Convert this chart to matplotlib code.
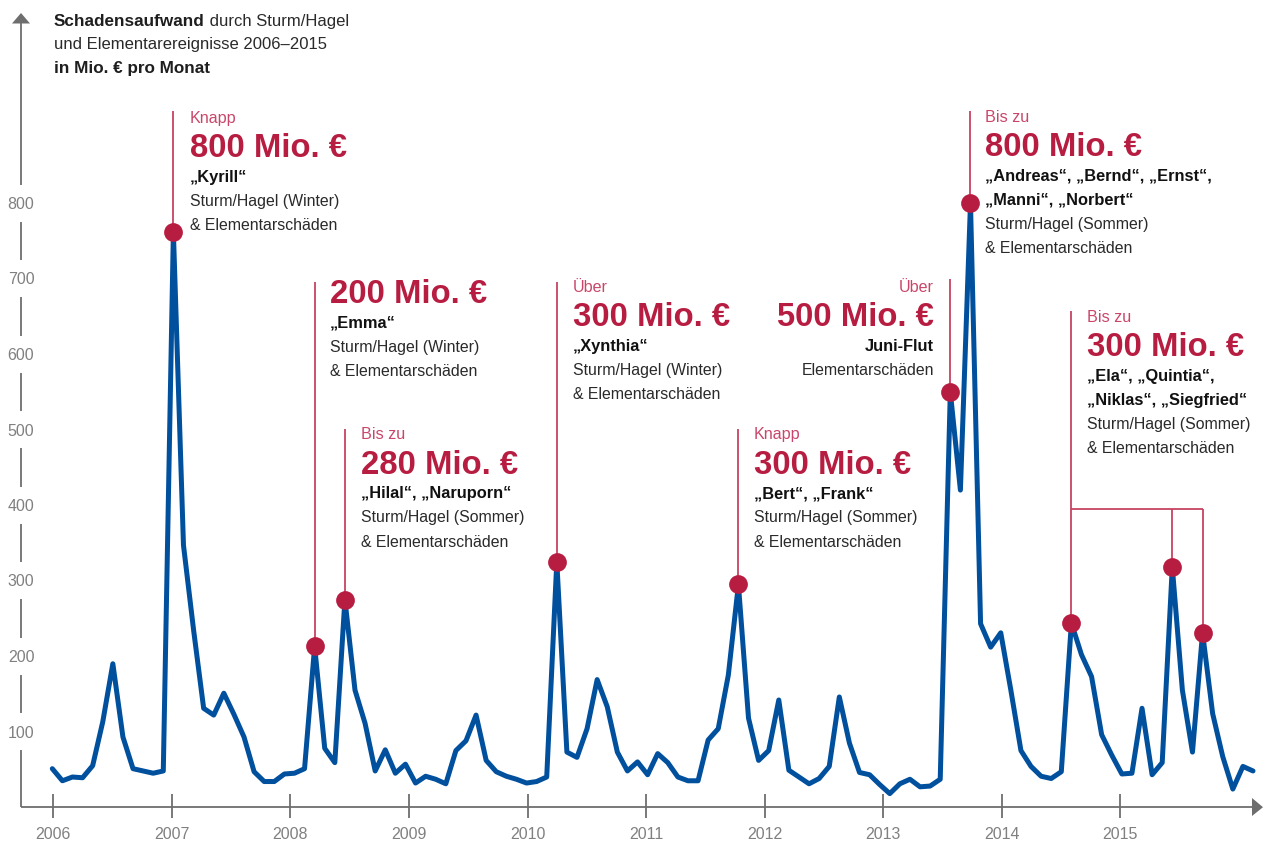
import numpy as np
import matplotlib
matplotlib.use("Agg")
import matplotlib.pyplot as plt
from matplotlib.patches import Polygon

# ---------------------------- DATEN ------------------------------- #
YEARS = list(range(2006, 2016))
Y_TICKS = [100, 200, 300, 400, 500, 600, 700, 800]

# Schadenaufwand in Mio. € pro Monat (Jan..Dez)
S_2006 = [51, 35, 40, 39, 55, 113, 190, 93, 51, 48, 45, 48]
S_2007 = [762, 347, 235, 131, 122, 151, 123, 93, 47, 34, 34, 44]
S_2008 = [45, 51, 213, 78, 59, 275, 155, 111, 48, 76, 45, 57]
S_2009 = [32, 41, 37, 31, 75, 88, 122, 62, 47, 41, 37, 32]
S_2010 = [34, 40, 325, 73, 66, 104, 169, 133, 73, 48, 60, 43]
S_2011 = [71, 59, 40, 35, 35, 89, 104, 175, 295, 118, 62, 75]
S_2012 = [142, 49, 40, 31, 38, 54, 146, 85, 46, 43, 30, 18]
S_2013 = [31, 37, 27, 28, 37, 550, 420, 800, 243, 212, 231, 155]
S_2014 = [75, 54, 41, 38, 47, 244, 202, 173, 96, 69, 44, 45]
S_2015 = [131, 43, 59, 318, 155, 73, 231, 124, 67, 24, 54, 48]
SCHADEN = (S_2006 + S_2007 + S_2008 + S_2009 + S_2010
           + S_2011 + S_2012 + S_2013 + S_2014 + S_2015)

# Monate (Index) mit markierten Ereignissen
EVENT_MONTHS = [12, 26, 29, 50, 68, 89, 91, 101, 111, 114]

# Texte der Ereignisse
PRE = ["Knapp", None, "Bis zu", "Über", "Knapp", "Über", "Bis zu", "Bis zu"]
BIG = ["800 Mio. €", "200 Mio. €", "280 Mio. €", "300 Mio. €",
       "300 Mio. €", "500 Mio. €", "800 Mio. €", "300 Mio. €"]
NAMES = [
    ["„Kyrill“"],
    ["„Emma“"],
    ["„Hilal“, „Naruporn“"],
    ["„Xynthia“"],
    ["„Bert“, „Frank“"],
    ["Juni-Flut"],
    ["„Andreas“, „Bernd“, „Ernst“,", "„Manni“, „Norbert“"],
    ["„Ela“, „Quintia“,", "„Niklas“, „Siegfried“"],
]
WINTER = ["Sturm/Hagel (Winter)", "& Elementarschäden"]
SOMMER = ["Sturm/Hagel (Sommer)", "& Elementarschäden"]
BODY = [WINTER, WINTER, SOMMER, WINTER, SOMMER, ["Elementarschäden"], SOMMER, SOMMER]

# ---------------------------- LAYOUT ------------------------------- #
W, H = 1265, 841
X0, DX = 52.3, 10.09      # px des ersten Monats, px pro Monat
Y0, DY = 807.2, 0.755     # px der Nulllinie, px pro Mio. €
YEAR_STEP = 11.75         # Abstand der Jahresticks (in Monaten)

# (Linien-Monat, Linien-Oberkante px, Text-x px, erste Grundlinie px, Ausrichtung)
BLOCKS = [
    (12, 111, 190, 122.7, "left"),
    (26, 282, 330, 303.3, "left"),
    (29, 429, 361, 439.3, "left"),
    (50, 282, 573, 291.7, "left"),
    (68, 429, 754, 439.3, "left"),
    (89, 279, 934, 291.7, "right"),
    (91, 111, 985, 121.7, "left"),
    (101, 311, 1087, 321.7, "left"),
]

BLUE = "#00509e"
RED = "#b71c41"
RED_LINE = "#c64462"
RED_LIGHT = "#c9466a"
GREY = "#6e6e6e"
GREY_TXT = "#808080"
DARK = "#2a2a2a"

FONT = ["Liberation Sans", "DejaVu Sans"]
plt.rcParams["font.family"] = FONT


def dx(px):
    return (px - X0) / DX


def dy(py):
    return (Y0 - py) / DY


fig = plt.figure(figsize=(W / 100, H / 100), dpi=100)
ax = fig.add_axes([0, 0, 1, 1])
ax.set_xlim(dx(0), dx(W))
ax.set_ylim(dy(H), dy(0))
ax.axis("off")

# ---- Achsen ----
x_axis = dx(21)
ax.hlines(0, x_axis, dx(1253), color=GREY, lw=1.3, zorder=1)
ax.add_patch(Polygon([(dx(1252), dy(798)), (dx(1263), 0), (dx(1252), dy(816))],
                     closed=True, color=GREY, lw=0, zorder=1))
gap = 18.5 / DY
edges = [0] + [v for t in Y_TICKS for v in (t - gap, t + gap)] + [dy(23)]
for lo, hi in zip(edges[::2], edges[1::2]):
    ax.vlines(x_axis, lo, hi, color=GREY, lw=1.3, zorder=1)
ax.add_patch(Polygon([(dx(12), dy(23.5)), (x_axis, dy(13)), (dx(30), dy(23.5))],
                     closed=True, color=GREY, lw=0, zorder=1))
for t in Y_TICKS:
    ax.text(x_axis, t - 5.8 / DY, str(t), ha="center", va="baseline",
            fontsize=11.5, color=GREY_TXT)

tick_pos = [0.1 + YEAR_STEP * k for k in range(len(YEARS))]
ax.vlines(tick_pos, dy(818), dy(794), color=GREY, lw=1.3, zorder=1)
for x, yr in zip(tick_pos, YEARS):
    ax.text(x, dy(839), str(yr), ha="center", va="baseline",
            fontsize=11.5, color=GREY_TXT)

# ---- Titel ----
t1 = ax.text(dx(54), dy(26), "Schadensaufwand", fontsize=12.3, fontweight="bold",
             color="#1e1e1e", va="baseline")
ax.annotate(" durch Sturm/Hagel", xy=(1, 0), xycoords=t1, va="bottom",
            fontsize=12, color=DARK)
ax.text(dx(54), dy(49.5), "und Elementarereignisse 2006–2015", fontsize=12,
        color=DARK, va="baseline")
ax.text(dx(54), dy(73.3), "in Mio. € pro Monat", fontsize=12.3, fontweight="bold",
        color="#1e1e1e", va="baseline")

# ---- Zeitreihe ----
months = np.arange(len(SCHADEN))
ax.plot(months, SCHADEN, color=BLUE, lw=3.6, solid_joinstyle="round",
        solid_capstyle="round", zorder=3)

# ---- Ereignis-Linien ----
for month, top, _, _, _ in BLOCKS:
    ax.vlines(month, SCHADEN[month], dy(top), color=RED_LINE, lw=1.3, zorder=2)
bracket_y = dy(509)
ax.hlines(bracket_y, EVENT_MONTHS[7], EVENT_MONTHS[9], color=RED_LINE, lw=1.3, zorder=2)
for m in EVENT_MONTHS[8:]:
    ax.vlines(m, SCHADEN[m], bracket_y, color=RED_LINE, lw=1.3, zorder=2)

ax.plot(EVENT_MONTHS, [SCHADEN[m] for m in EVENT_MONTHS], "o", color=RED,
        ms=13.5, mec="none", zorder=4)

# ---- Ereignis-Texte ----
for k, (month, top, tx, base, align) in enumerate(BLOCKS):
    x = dx(tx)
    y = base
    if PRE[k] is not None:
        ax.text(x, dy(y), PRE[k], ha=align, va="baseline", fontsize=11.6,
                color=RED_LIGHT)
        y += 34.7
    ax.text(x, dy(y), BIG[k], ha=align, va="baseline", fontsize=23.7,
            fontweight="bold", color=RED)
    for line in NAMES[k]:
        y += 24.2
        ax.text(x, dy(y), line, ha=align, va="baseline", fontsize=11.8,
                fontweight="bold", color="#111111")
    for line in BODY[k]:
        y += 24.2
        ax.text(x, dy(y), line, ha=align, va="baseline", fontsize=11.4,
                color=DARK)

fig.savefig("out.png", dpi=100)
